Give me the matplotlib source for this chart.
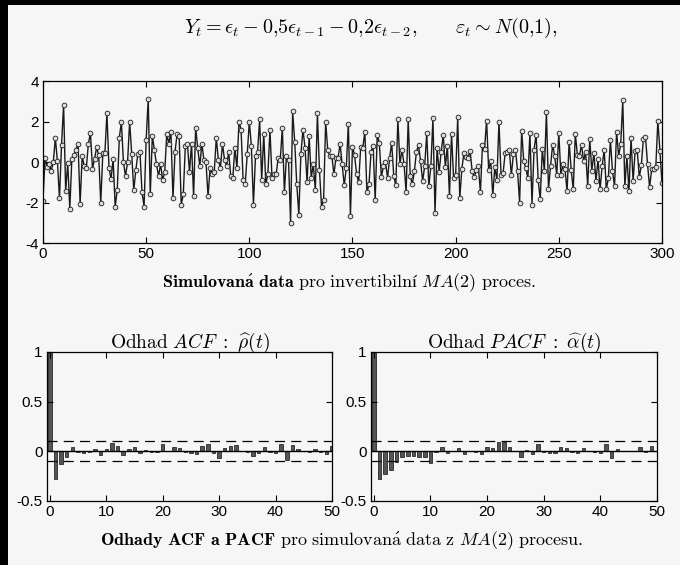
import numpy as np
import matplotlib
matplotlib.use("Agg")
import matplotlib.pyplot as plt
from matplotlib.patches import Rectangle

plt.rcParams['mathtext.fontset'] = 'cm'
plt.rcParams['font.family'] = ['Liberation Sans', 'DejaVu Sans']

# ---- simulated MA(2) series (t = 0..300) ----
y_0_49 = [-1.93, 0.2, -0.26, -0.1, -0.43, 0.0, 1.18, 0.03, -1.8, 0.85,
          2.82, -1.44, -0.05, -2.3, 0.16, 0.36, 0.6, 0.88, -2.07, 0.31,
          -0.21, -0.3, 0.9, 1.43, -0.33, 0.15, 0.72, 0.34, -2.02, 0.43,
          0.43, 2.41, -0.3, -0.84, 0.15, -2.23, -1.36, 1.21, 1.97, 0.0,
          -0.7, 0.0, 2.0, 0.4, -1.4, -0.4, 0.4, 0.5, -1.5, -2.2]
y_50_99 = [1.1, 3.1, -1.6, 1.3, 0.6, -0.1, -0.7, -0.1, -0.9, -0.5,
           1.4, 0.9, 1.5, -1.8, 0.5, 1.4, 1.3, -2.1, -1.6, 0.8,
           0.9, -0.5, 0.9, -1.7, 1.7, 0.7, -0.2, 0.9, 0.1, 0.0,
           -1.7, -0.3, -0.6, -0.5, 1.2, 0.1, -0.3, 0.9, 0.1, -0.2,
           0.5, -0.7, -0.8, 0.7, -0.3, 2.0, 1.6, -0.9, -1.1, 0.4]
y_100_149 = [2.0, 0.8, -2.1, 0.3, 0.5, 2.1, -0.9, 1.4, -1.1, -0.6,
             1.6, -0.8, -0.6, -0.6, 0.2, 0.1, 1.7, -1.5, 0.3, 0.1,
             -3.0, 2.5, 1.0, -1.1, -2.6, 0.4, 1.6, 0.7, -1.0, 1.3,
             -0.8, -0.1, -1.4, 2.4, -0.4, -2.2, -1.9, 2.0, 0.6, 0.3,
             0.3, -0.6, 0.2, 0.2, 0.9, -0.1, -1.15, -0.3, 1.9, -2.65]
y_150_199 = [0.75, 0.35, -0.6, -1.0, 0.75, 0.7, 1.5, -1.5, -1.1, 0.5,
             0.8, -1.9, 1.35, 0.95, -0.75, -0.2, 0.0, -0.8, 0.2, 0.95,
             -0.7, -1.15, 2.1, -0.1, 0.6, -0.1, -1.5, 2.1, -0.7, -1.1,
             -0.45, 0.5, 0.85, 0.05, -0.95, -0.2, 1.45, -1.2, -0.2, 2.15,
             -2.5, 0.7, -0.5, 0.5, 1.35, -0.25, 0.8, -1.7, 1.4, -0.8]
y_200_249 = [-0.65, 2.2, -1.8, -0.35, 0.45, 0.25, 0.2, 0.55, -0.45, -0.75,
             -0.4, -0.2, -1.5, 0.85, 0.65, 2.05, -0.4, 0.05, -1.65, -0.25,
             -0.9, 2.0, -0.65, -0.55, 0.45, 0.5, 0.6, -0.65, 0.4, 0.6,
             -0.45, -2.0, 1.55, 0.05, -0.3, -0.8, 1.45, -2.1, 0.6, 1.35,
             -0.9, -1.85, 0.65, -0.45, 2.45, -1.35, -0.2, 0.85, 0.3, -0.65]
y_250_300 = [1.45, -0.65, -0.1, -0.35, -1.45, 1.0, -0.4, -1.35, 1.4, 0.35,
             0.3, 0.85, 0.05, 0.5, -1.2, 1.15, -0.45, 0.45, -0.95, 0.15,
             -1.35, -0.2, 0.6, -1.35, -0.8, 1.1, -0.45, -1.2, 1.5, 0.3,
             0.9, 3.05, -1.2, 0.3, -1.45, 1.2, -0.95, 0.55, 0.6, -0.75,
             -0.15, 1.15, 1.25, -0.1, -1.25, -0.35, -0.35, -0.25, 2.05, 0.55,
             -1.05]
series = np.array(y_0_49 + y_50_99 + y_100_149 + y_150_199 + y_200_249 + y_250_300)
t = np.arange(len(series))

# ---- estimated ACF / PACF, lags 0..50 ----
acf_vals = [1.0, -0.28, -0.13, -0.06, 0.04, -0.01, -0.02, -0.01, 0.02, -0.04,
            0.02, 0.08, 0.05, -0.04, 0.02, 0.04, -0.02, 0.01, -0.01, -0.01,
            0.07, 0.0, 0.04, 0.03, -0.01, -0.02, -0.03, 0.05, 0.07, -0.02,
            -0.07, 0.03, 0.05, 0.06, 0.0, -0.01, -0.05, -0.02, 0.04, -0.01,
            -0.02, 0.07, -0.09, 0.06, 0.02, 0.0, -0.01, 0.02, -0.01, -0.03,
            0.05]
pacf_vals = [1.0, -0.28, -0.23, -0.19, -0.11, -0.06, -0.05, -0.05, -0.06, -0.06,
             -0.12, -0.01, 0.04, -0.02, 0.0, 0.03, -0.03, 0.0, -0.01, -0.03,
             0.04, 0.03, 0.09, 0.09, 0.04, 0.0, -0.06, 0.01, -0.03, 0.07,
             -0.01, -0.02, -0.02, 0.04, 0.03, -0.01, -0.02, 0.03, 0.0, -0.01,
             -0.02, 0.07, -0.07, 0.02, 0.0, 0.0, 0.0, 0.04, -0.01, 0.05,
             0.0]
lags = np.arange(len(acf_vals))
conf_band = 0.1

bg = '#f6f6f6'
fig = plt.figure(figsize=(6.8, 5.65), dpi=100, facecolor=bg)

# scan border
fig.add_artist(Rectangle((0, 0), 0.012, 1, transform=fig.transFigure,
                         facecolor='black', edgecolor='none', zorder=10))
fig.add_artist(Rectangle((0, 0.992), 1, 0.008, transform=fig.transFigure,
                         facecolor='black', edgecolor='none', zorder=10))

def style_axes(ax):
    ax.set_facecolor(bg)
    ax.tick_params(direction='in', top=True, right=True, labelsize=11,
                   length=4, width=0.8, pad=3)
    for s in ax.spines.values():
        s.set_linewidth(0.9)

# ---- top: time series ----
ax = fig.add_axes([0.0632, 0.5699, 0.9103, 0.2867])
style_axes(ax)
ax.plot(t, series, color='#1a1a1a', lw=1.0, marker='o', ms=3.4,
        mfc='#dddddd', mec='#1a1a1a', mew=0.6)
ax.set_xlim(0, 300)
ax.set_ylim(-4, 4)
ax.set_xticks(np.arange(0, 301, 50))
ax.set_yticks([-4, -2, 0, 2, 4])
ax.set_yticklabels(['-4', '-2', '0', '2', '4'])

fig.text(0.545, 0.950,
         r"$Y_t = \epsilon_t - 0{,}5\epsilon_{t-1} - 0{,}2\epsilon_{t-2}, \qquad \varepsilon_t \sim N(0{,}1),$",
         ha='center', va='center', fontsize=14.5)
fig.text(0.513, 0.499,
         r"$\mathbf{Simulovan\acute{a}\ data}\ \mathrm{pro\ invertibilní}\ MA(2)\ \mathrm{proces.}$",
         ha='center', va='center', fontsize=13)

# ---- bottom: ACF / PACF ----
def corr_panel(rect, vals, title):
    a = fig.add_axes(rect)
    style_axes(a)
    a.bar(lags, vals, width=0.6, color='#555555', edgecolor='#111111', lw=0.5)
    a.axhline(0, color='black', lw=1.0)
    a.axhline(conf_band, color='black', lw=0.9, ls=(0, (8, 5)))
    a.axhline(-conf_band, color='black', lw=0.9, ls=(0, (8, 5)))
    a.set_xlim(-0.5, 50)
    a.set_ylim(-0.5, 1)
    a.set_xticks(np.arange(0, 51, 10))
    a.set_yticks([-0.5, 0, 0.5, 1])
    a.set_yticklabels(['-0.5', '0', '0.5', '1'])
    a.set_title(title, fontsize=14, pad=3)
    return a

corr_panel([0.0691, 0.1133, 0.4191, 0.2637], acf_vals,
           r"$\mathrm{Odhad}\ ACF\ :\ \widehat{\rho}(t)$")
corr_panel([0.5456, 0.1133, 0.4206, 0.2637], pacf_vals,
           r"$\mathrm{Odhad}\ PACF\ :\ \widehat{\alpha}(t)$")

fig.text(0.502, 0.043,
         r"$\mathbf{Odhady\ ACF\ a\ PACF}\ \mathrm{pro\ simulovan\acute{a}\ data\ z}\ MA(2)\ \mathrm{procesu.}$",
         ha='center', va='center', fontsize=13)

fig.savefig('out.png', dpi=100, facecolor=bg)
